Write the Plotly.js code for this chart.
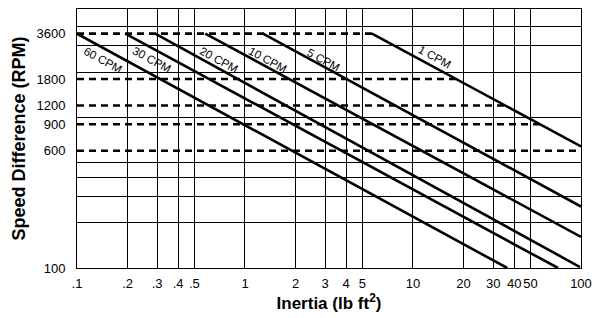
<!DOCTYPE html>
<html>
<head>
<meta charset="utf-8">
<script src="https://cdn.plot.ly/plotly-3.0.1.min.js"></script>
<style>html,body{margin:0;padding:0;background:#fff;}#chart{width:597px;height:318px;}</style>
</head>
<body>
<div id="chart"></div>
<script>
// ---- data ----
const cpmLabels = ['60 CPM', '30 CPM', '20 CPM', '10 CPM', '5 CPM', '1 CPM'];
const topSpeed = 3600;                                  // RPM where each CPM line starts
const startInertia = [0.1, 0.194, 0.292, 0.58, 1.28, 5.7]; // lb ft^2 at 3600 RPM
const endInertia = [36.4, 73, 98.6, 100, 100, 100];     // lb ft^2 at end of line
const endSpeed = [100, 100, 101.5, 161, 256, 642];      // RPM at end of line
const labelInertia = [0.142, 0.281, 0.70, 1.37, 2.94, 13.5];
const labelSpeed = [2400, 2415, 2400, 2415, 2415, 2510];

const speedLevels = [3600, 1800, 1200, 900, 600];       // dashed motor speeds
const levelEndInertia = [5.7, 18, 35, 57, 100];         // dashed line ends (meets 1 CPM line)

const xTickVals = [0.1, 0.2, 0.3, 0.4, 0.5, 1, 2, 3, 4, 5, 10, 20, 30, 40, 50, 100];
const xTickText = ['.1', '.2', '.3', '.4', '.5', '1', '2', '3', '4', '5', '10', '20', '30', '40', '50', '100'];
const yTickVals = [100, 600, 900, 1200, 1800, 3600];
const yTickText = ['100', '600', '900', '1200', '1800', '3600'];
const yGridVals = [200, 300, 400, 500, 1000, 2000, 3000, 4000];

// ---- traces ----
const FONT = 'Liberation Sans, Arial, Helvetica, sans-serif';
const traces = [];
traces.push({x: [], y: [], yaxis: 'y2', type: 'scatter', mode: 'lines', hoverinfo: 'skip', showlegend: false});

speedLevels.forEach((s, i) => {
  traces.push({
    x: [xTickVals[0], levelEndInertia[i]], y: [s, s],
    type: 'scatter', mode: 'lines', showlegend: false, hoverinfo: 'skip',
    line: {color: '#000', width: 2.6, dash: '7px,5px'}
  });
});
cpmLabels.forEach((lab, i) => {
  traces.push({
    x: [startInertia[i], endInertia[i]], y: [topSpeed, endSpeed[i]],
    type: 'scatter', mode: 'lines', name: lab, showlegend: false,
    line: {color: '#000', width: 2.6}
  });
});

const annotations = cpmLabels.map((lab, i) => ({
  x: Math.log10(labelInertia[i]), y: Math.log10(labelSpeed[i]),
  xref: 'x', yref: 'y', text: lab, showarrow: false, textangle: 28.5,
  font: {family: FONT, size: 11.5, color: '#000'}
}));

const layout = {
  width: 597, height: 318,
  margin: {l: 77, r: 16, t: 9, b: 50, pad: 0},
  paper_bgcolor: '#fff', plot_bgcolor: '#fff',
  showlegend: false,
  font: {family: FONT, color: '#000'},
  xaxis: {
    type: 'log', range: [-1, 2.0001],
    tickmode: 'array', tickvals: xTickVals, ticktext: xTickText,
    tickangle: 0,
    showgrid: true, gridcolor: '#000', gridwidth: 1,
    showline: true, linecolor: '#000', linewidth: 1, mirror: true,
    ticks: '', ticklabelstandoff: 3, zeroline: false,
    tickfont: {family: FONT, size: 13, color: '#000'},
    title: {text: '<b>Inertia (lb ft<sup>2</sup>)</b>', font: {family: FONT, size: 17, color: '#000'}, standoff: 7}
  },
  yaxis: {
    type: 'log', range: [2, 3.72],
    tickmode: 'array', tickvals: yTickVals, ticktext: yTickText,
    showgrid: false,
    showline: true, linecolor: '#000', linewidth: 1, mirror: true,
    ticks: '', ticklabelstandoff: 8, zeroline: false,
    tickfont: {family: FONT, size: 13, color: '#000'},
    title: {text: '<b>Speed Difference (RPM)</b>', font: {family: FONT, size: 18, color: '#000'}, standoff: 6}
  },
  yaxis2: {
    type: 'log', range: [2, 3.72], overlaying: 'y', side: 'left',
    tickmode: 'array', tickvals: yGridVals, showticklabels: false,
    showgrid: true, gridcolor: '#000', gridwidth: 1, ticks: '', showline: false, zeroline: false
  },
  annotations: annotations
};

Plotly.newPlot('chart', traces, layout, {staticPlot: true, displayModeBar: false});
</script>
</body>
</html>
